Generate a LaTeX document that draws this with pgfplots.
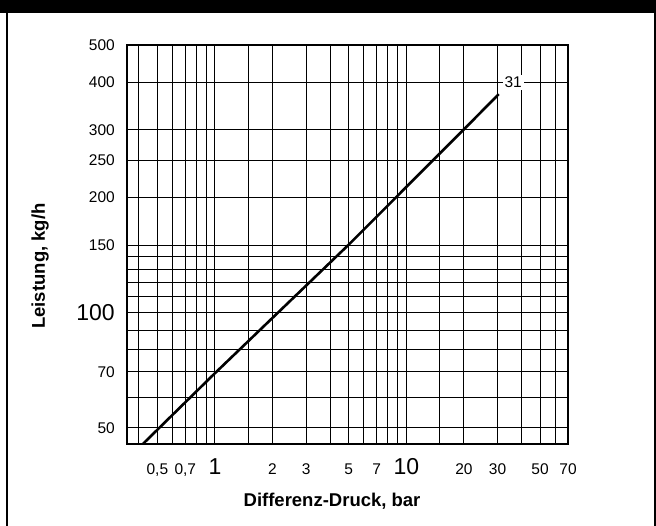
\documentclass[border=0pt]{standalone}
\usepackage{pgfplots}
\pgfplotsset{compat=1.18}
\usepackage{fontspec}
\setmainfont{Liberation Sans}
\begin{document}
\begin{tikzpicture}[x=1pt,y=1pt]
\path[use as bounding box] (-127,-81) rectangle (529,444);
\fill[black] (-127,431) rectangle (529,444);
\draw[line width=2pt] (-120,432) -- (-120,-82);
\draw[line width=2pt] (528,432) -- (528,-82);
\begin{axis}[
  at={(0,0)}, anchor=south west,
  scale only axis, width=441pt, height=399pt,
  xmode=log, ymode=log,
  xmin=0.347, xmax=70, ymin=45.4, ymax=500,
  xtick={0.5,0.7,2,3,5,7,20,30,50,70},
  xticklabels={{0,5},{0,7},2,3,5,7,20,30,50,70},
  minor xtick={0.4,0.6,0.8,0.9,1.5,4,6,8,9,15,40,60},
  extra x ticks={1,10}, extra x tick labels={1,10},
  extra x tick style={grid style={line width=2pt}, tick label style={font=\fontsize{23}{23}\selectfont}},
  ytick={50,70,150,200,250,300,400,500},
  yticklabels={50,70,150,200,250,300,400,500},
  minor ytick={60,80,90,110,120,130,140},
  extra y ticks={100}, extra y tick labels={100},
  extra y tick style={tick label style={font=\fontsize{23}{23}\selectfont}},
  grid=both,
  major grid style={black, line width=1pt},
  minor grid style={black, line width=1pt},
  major tick length=0pt, minor tick length=0pt,
  axis line style={line width=2pt},
  tick label style={font=\fontsize{15.5}{15.5}\selectfont},
  xticklabel style={anchor=base, yshift=-31pt, inner sep=0pt},
  yticklabel style={anchor=east, xshift=-12pt, inner sep=0pt},
  xlabel={Differenz-Druck, bar},
  xlabel style={at={(axis description cs:0.465,-0.157)}, anchor=base, font=\bfseries\fontsize{18.5}{18.5}\selectfont},
  ylabel={Leistung, kg/h},
  ylabel style={at={(axis description cs:-0.197,0.446)}, anchor=center, font=\bfseries\fontsize{18.5}{18.5}\selectfont},
  clip=true,
]
\addplot[black, line width=2.6pt] coordinates {(0.42,45.4) (1,69.5) (5,150.5) (20,301) (30.4,372)};
\node[fill=white, inner sep=2pt, font=\fontsize{15.5}{15.5}\selectfont] at (axis cs:36.2,400) {31};
\end{axis}
\end{tikzpicture}
\end{document}
